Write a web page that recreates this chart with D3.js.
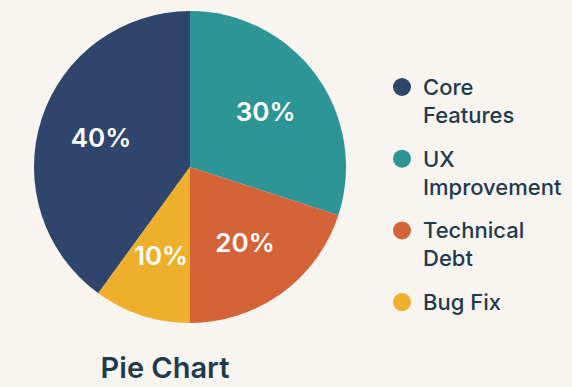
<!DOCTYPE html>
<html>
<head>
<meta charset="utf-8">
<script src="https://cdn.jsdelivr.net/npm/d3@7"></script>
<style>
  html, body { margin: 0; padding: 0; background: #f8f5f0; }
  svg { display: block; }
</style>
</head>
<body>
<svg id="chart" width="572" height="387"></svg>
<script>
// slices, in drawing order starting from Core Features
const categories = ["Core Features", "UX Improvement", "Technical Debt", "Bug Fix"];
const legendLines = [["Core", "Features"], ["UX", "Improvement"], ["Technical", "Debt"], ["Bug Fix"]];
const values = [40, 30, 20, 10];
const colors = ["#2f456b", "#2e9597", "#d46338", "#eeb02c"];
const title = "Pie Chart";

const svg = d3.select("#chart");
const cx = 190, cy = 167, radius = 156;

const pie = d3.pie()
    .sort(null)
    .value((d) => d.value)
    .startAngle(-0.4 * 2 * Math.PI)
    .endAngle(0.6 * 2 * Math.PI);

const data = categories.map((c, i) => ({ name: c, value: values[i], color: colors[i] }));
const arcs = pie(data);

const arc = d3.arc().innerRadius(0).outerRadius(radius);
const labelArc = d3.arc().innerRadius(radius * 0.6).outerRadius(radius * 0.6);

const g = svg.append("g").attr("transform", `translate(${cx},${cy})`);

g.selectAll(".slice")
    .data(arcs)
    .enter()
    .append("path")
    .attr("class", "slice")
    .attr("d", arc)
    .attr("fill", (d) => d.data.color);

const total = d3.sum(values);
g.selectAll(".pct")
    .data(arcs)
    .enter()
    .append("text")
    .attr("class", "pct")
    .attr("transform", (d) => `translate(${labelArc.centroid(d)})`)
    .attr("text-anchor", "middle")
    .attr("dy", "0.36em")
    .style("font-family", "Inter, 'Noto Sans', sans-serif")
    .style("font-weight", 600)
    .style("font-size", "26px")
    .attr("fill", "#ffffff")
    .text((d) => Math.round(d.data.value / total * 100) + "%");

// legend
const legend = svg.append("g").attr("transform", "translate(402,87)");
const item = legend.selectAll(".item")
    .data(data)
    .enter()
    .append("g")
    .attr("class", "item")
    .attr("transform", (d, i) => `translate(0,${i * 71.7})`);

item.append("circle").attr("r", 9).attr("fill", (d) => d.color);

item.append("text")
    .attr("x", 21)
    .attr("y", 8)
    .style("font-family", "Inter, 'Noto Sans', sans-serif")
    .style("font-weight", 500)
    .style("font-size", "22px")
    .attr("fill", "#1f3a4d")
    .selectAll("tspan")
    .data((d, i) => legendLines[i])
    .enter()
    .append("tspan")
    .attr("x", 21)
    .attr("dy", (d, i) => (i === 0 ? 0 : 28))
    .text((d) => d);

svg.append("text")
    .attr("x", 165)
    .attr("y", 378)
    .attr("text-anchor", "middle")
    .style("font-family", "Inter, 'Noto Sans', sans-serif")
    .style("font-weight", 600)
    .style("font-size", "29px")
    .attr("fill", "#1f3a4d")
    .text(title);
</script>
</body>
</html>
